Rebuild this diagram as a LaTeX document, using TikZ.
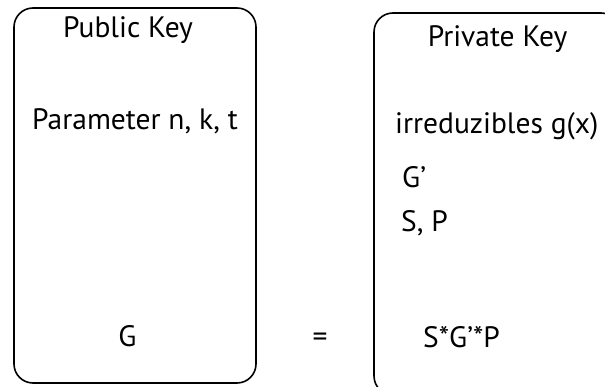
\documentclass[tikz,border=0pt]{standalone}
\usepackage{fontspec}
\setmainfont{PT Sans}
\begin{document}
\begin{tikzpicture}[x=1pt,y=-1pt,
  keybox/.style={draw, line width=1.6pt, rounded corners=19pt, rectangle, inner sep=0pt},
  lbl/.style={inner sep=0pt, font=\fontsize{29.5}{34}\selectfont}]
\useasboundingbox (0,0) rectangle (605,387);
\clip (0,0) rectangle (605,387);
% the two key containers
\node (pub)  [keybox, minimum width=242pt, minimum height=375pt] at (135,195.5) {};
\node (priv) [keybox, minimum width=246pt, minimum height=382pt] at (497,204) {};
% public key contents
\node (pubtitle) [lbl, anchor=base] at (128,38) {Public Key};
\node (param)    [lbl, anchor=base] at (135,130) {Parameter n, k, t};
\node (gpub)     [lbl, anchor=base] at (127.5,346) {G};
% relation between the keys
\node (eq)       [lbl, anchor=base] at (320,346) {=};
% private key contents
\node (privtitle) [lbl, anchor=base] at (497.5,47) {Private Key};
\node (irr)       [lbl, anchor=base west] at (395,134) {irreduzibles g(x)};
\node (gprime)    [lbl, anchor=base west] at (402,188) {G’};
\node (sp)        [lbl, anchor=base west] at (401,232) {S, P};
\node (prod)      [lbl, anchor=base west] at (423,347) {S*G’*P};
\end{tikzpicture}
\end{document}
